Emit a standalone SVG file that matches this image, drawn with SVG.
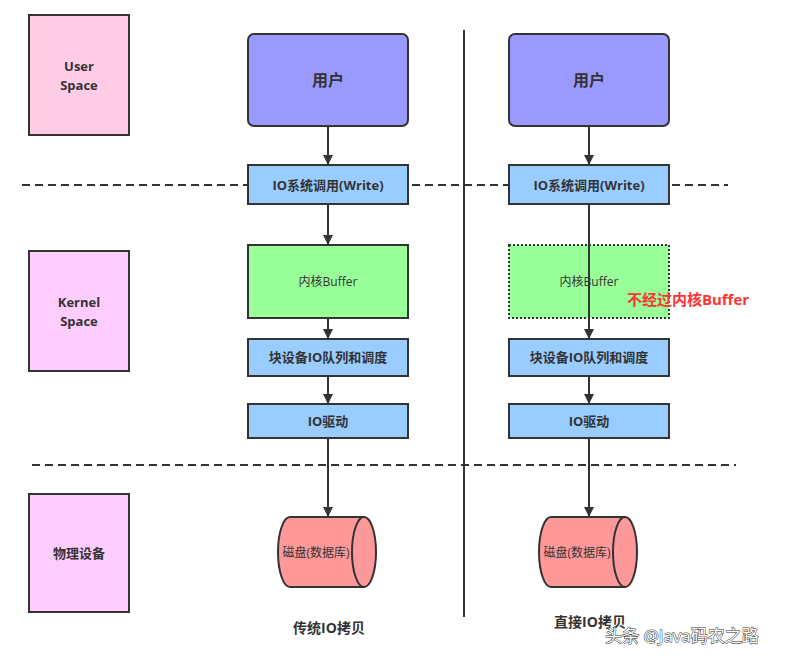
<svg xmlns="http://www.w3.org/2000/svg" width="797" height="661" viewBox="0 0 797 661">
<style>
text{font-family:"Open Sans","Noto Sans CJK SC",sans-serif;fill:#333;text-anchor:middle;dominant-baseline:central}
.b{font-weight:bold}
.s{stroke:#333;stroke-width:2}
.bl{fill:#99CCFF;stroke:#333;stroke-width:2}
.ln{stroke:#333;stroke-width:2;fill:none}
</style>
<defs><marker id="a" markerWidth="10" markerHeight="10" refX="9" refY="5" orient="auto" markerUnits="userSpaceOnUse"><path d="M0,0 L10,5 L0,10 z" fill="#333"/></marker></defs>
<rect width="797" height="661" fill="#fff"/>
<g id="separators">
<line class="ln" x1="22" y1="185" x2="728" y2="185" stroke-dasharray="8,5"/>
<line class="ln" x1="32" y1="465" x2="736" y2="465" stroke-dasharray="8,5"/>
<line class="ln" x1="464" y1="30" x2="464" y2="617"/>
</g>
<g id="userspace"><rect x="29" y="15" width="100" height="120" fill="#FFCCE6" class="s"/><text x="79" y="66" font-size="13" class="b">User</text><text x="79" y="85" font-size="13" class="b">Space</text></g>
<g id="kernelspace"><rect x="29" y="251" width="100" height="120" fill="#FFCCFF" class="s"/><text x="79" y="302" font-size="13" class="b">Kernel</text><text x="79" y="321" font-size="13" class="b">Space</text></g>
<g id="phys"><rect x="29" y="494" width="100" height="118" fill="#FFCCFF" class="s"/><text x="79" y="553" font-size="13" class="b">物理设备</text></g>
<g id="user1"><rect x="248" y="34" width="160" height="92" rx="6" fill="#9999FF" class="s"/><text x="328" y="80" font-size="16" class="b">用户</text></g>
<g id="user2"><rect x="509" y="34" width="160" height="92" rx="6" fill="#9999FF" class="s"/><text x="589" y="80" font-size="16" class="b">用户</text></g>
<g id="io1"><rect x="248" y="165" width="160" height="39" class="bl"/><text x="328" y="185" font-size="13" class="b">IO系统调用(Write)</text></g>
<g id="io2"><rect x="509" y="165" width="160" height="39" class="bl"/><text x="589" y="185" font-size="13" class="b">IO系统调用(Write)</text></g>
<g id="kb1"><rect x="248" y="245" width="160" height="73" fill="#99FF99" class="s"/><text x="328" y="281" font-size="12">内核Buffer</text></g>
<g id="kb2"><rect x="509" y="245" width="160" height="73" fill="#99FF99" stroke="#333" stroke-width="2" stroke-dasharray="2,2"/><text x="589" y="281" font-size="12">内核Buffer</text></g>
<g id="blk1"><rect x="248" y="339" width="160" height="37" class="bl"/><text x="328" y="357" font-size="13" class="b">块设备IO队列和调度</text></g>
<g id="blk2"><rect x="509" y="339" width="160" height="37" class="bl"/><text x="589" y="357" font-size="13" class="b">块设备IO队列和调度</text></g>
<g id="drv1"><rect x="248" y="404" width="160" height="34" class="bl"/><text x="328" y="421" font-size="13" class="b">IO驱动</text></g>
<g id="drv2"><rect x="509" y="404" width="160" height="34" class="bl"/><text x="589" y="421" font-size="13" class="b">IO驱动</text></g>
<g id="disk1"><path d="M364,517 H290 A12,35 0 0 0 290,587 H364 Z" fill="#FF9999" class="s"/><ellipse cx="364" cy="552" rx="12" ry="35" fill="#FF9999" class="s"/><text x="316" y="552" font-size="12">磁盘(数据库)</text></g>
<g id="disk2"><path d="M625,517 H551 A12,35 0 0 0 551,587 H625 Z" fill="#FF9999" class="s"/><ellipse cx="625" cy="552" rx="12" ry="35" fill="#FF9999" class="s"/><text x="577" y="552" font-size="12">磁盘(数据库)</text></g>
<g id="connectors">
<line class="ln" x1="328" y1="126" x2="328" y2="164" marker-end="url(#a)"/>
<line class="ln" x1="328" y1="204" x2="328" y2="244" marker-end="url(#a)"/>
<line class="ln" x1="328" y1="318" x2="328" y2="338" marker-end="url(#a)"/>
<line class="ln" x1="328" y1="376" x2="328" y2="403" marker-end="url(#a)"/>
<line class="ln" x1="328" y1="438" x2="328" y2="516" marker-end="url(#a)"/>
<line class="ln" x1="589" y1="126" x2="589" y2="164" marker-end="url(#a)"/>
<line class="ln" x1="589" y1="204" x2="589" y2="338" marker-end="url(#a)"/>
<line class="ln" x1="589" y1="376" x2="589" y2="403" marker-end="url(#a)"/>
<line class="ln" x1="589" y1="438" x2="589" y2="516" marker-end="url(#a)"/>
</g>
<text x="688" y="299" font-size="15" class="b" style="fill:#FF3333">不经过内核Buffer</text>
<text x="329" y="627" font-size="14" class="b">传统IO拷贝</text>
<text x="590" y="621" font-size="14" class="b">直接IO拷贝</text>
<text x="682" y="635" font-size="17" style="fill:#fff;stroke:#333;stroke-width:1;paint-order:stroke">头条 @Java码农之路</text>
</svg>
